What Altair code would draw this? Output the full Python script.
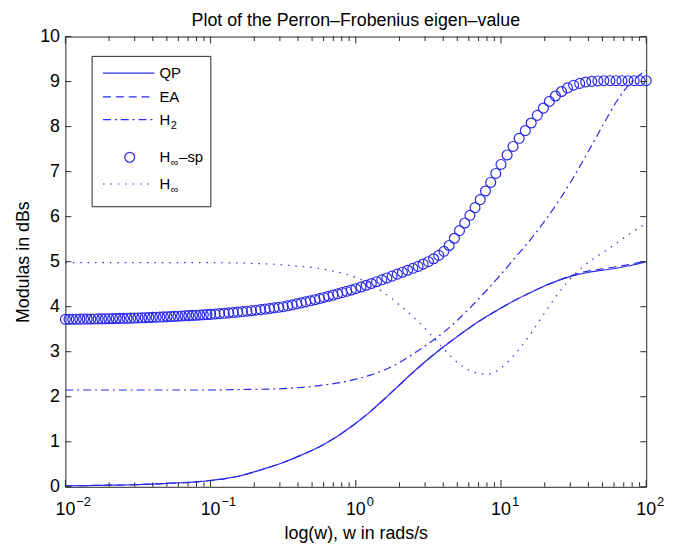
import altair as alt
import pandas as pd

BLUE = "#2a2ae8"
INK = "#262626"
FONT = "Liberation Sans"
W, H = 587, 455

# ---- data (log10 of w, value in dB) ----
line_logw = [-2.0, -1.9, -1.8, -1.7, -1.6, -1.5, -1.4, -1.3, -1.2, -1.1, -1.0,
             -0.9, -0.8, -0.7, -0.6, -0.5, -0.4, -0.3, -0.2, -0.1, 0.0,
             0.1, 0.2, 0.3, 0.4, 0.5, 0.6, 0.7, 0.8, 0.9, 1.0,
             1.1, 1.2, 1.3, 1.4, 1.5, 1.6, 1.7, 1.8, 1.9, 2.0]
qp_val = [0.02, 0.025, 0.03, 0.035, 0.04, 0.05, 0.06, 0.075, 0.09, 0.11, 0.14,
          0.18, 0.24, 0.33, 0.43, 0.54, 0.67, 0.81, 0.98, 1.18, 1.41,
          1.67, 1.96, 2.26, 2.56, 2.84, 3.10, 3.34, 3.57, 3.78, 3.97,
          4.15, 4.31, 4.46, 4.59, 4.69, 4.76, 4.81, 4.86, 4.92, 5.00]
ea_val = [0.02, 0.025, 0.03, 0.035, 0.04, 0.05, 0.06, 0.075, 0.09, 0.11, 0.14,
          0.18, 0.24, 0.33, 0.43, 0.54, 0.67, 0.81, 0.98, 1.18, 1.41,
          1.67, 1.96, 2.26, 2.56, 2.84, 3.10, 3.34, 3.57, 3.78, 3.97,
          4.15, 4.31, 4.46, 4.59, 4.71, 4.79, 4.84, 4.89, 4.95, 5.02]
h2_val = [2.15, 2.15, 2.15, 2.15, 2.15, 2.15, 2.15, 2.15, 2.15, 2.15, 2.15,
          2.155, 2.16, 2.165, 2.17, 2.18, 2.20, 2.23, 2.27, 2.32, 2.39,
          2.48, 2.60, 2.76, 2.96, 3.18, 3.42, 3.70, 4.02, 4.36, 4.72,
          5.10, 5.48, 5.90, 6.36, 6.88, 7.44, 8.02, 8.58, 9.00, 9.25]
hinf_val = [4.98, 4.98, 4.98, 4.98, 4.98, 4.98, 4.98, 4.98, 4.98, 4.98, 4.98,
            4.975, 4.97, 4.96, 4.95, 4.93, 4.90, 4.87, 4.82, 4.75, 4.65,
            4.50, 4.30, 4.04, 3.76, 3.44, 3.08, 2.76, 2.56, 2.50, 2.64,
            2.96, 3.38, 3.86, 4.32, 4.70, 4.98, 5.20, 5.42, 5.65, 5.85]

sp_logw = [-2.000, -1.975, -1.950, -1.925, -1.900, -1.875, -1.850, -1.825, -1.800, -1.775,
           -1.750, -1.725, -1.700, -1.675, -1.650, -1.625, -1.600, -1.575, -1.550, -1.525,
           -1.500, -1.475, -1.450, -1.425, -1.400, -1.375, -1.350, -1.325, -1.300, -1.275,
           -1.250, -1.225, -1.200, -1.175, -1.150, -1.125, -1.100, -1.075, -1.050, -1.025,
           -1.000, -0.969, -0.938, -0.906, -0.875, -0.844, -0.813, -0.781, -0.750, -0.719,
           -0.688, -0.656, -0.625, -0.594, -0.563, -0.531, -0.500, -0.469, -0.438, -0.406,
           -0.375, -0.344, -0.313, -0.281, -0.250, -0.219, -0.188, -0.156, -0.125, -0.094,
           -0.063, -0.031,
           0.000, 0.036, 0.071, 0.107, 0.143, 0.179, 0.214, 0.250, 0.286, 0.321,
           0.357, 0.393, 0.429, 0.464, 0.500, 0.536, 0.571, 0.607, 0.643, 0.679,
           0.714, 0.750, 0.786, 0.821, 0.857, 0.893, 0.929, 0.964,
           1.000, 1.042, 1.083, 1.125, 1.167, 1.208, 1.250, 1.292, 1.333, 1.375,
           1.417, 1.458, 1.500, 1.542, 1.583, 1.625, 1.667, 1.708, 1.750, 1.792,
           1.833, 1.875, 1.917, 1.958, 2.000]
sp_val = [3.720, 3.721, 3.722, 3.723, 3.724, 3.725, 3.726, 3.727, 3.728, 3.729,
          3.730, 3.732, 3.734, 3.736, 3.738, 3.740, 3.742, 3.744, 3.746, 3.748,
          3.750, 3.753, 3.756, 3.760, 3.763, 3.767, 3.770, 3.774, 3.777, 3.781,
          3.785, 3.789, 3.793, 3.798, 3.802, 3.807, 3.811, 3.816, 3.820, 3.825,
          3.830, 3.838, 3.846, 3.854, 3.862, 3.871, 3.880, 3.890, 3.900, 3.911,
          3.923, 3.935, 3.947, 3.960, 3.973, 3.986, 4.000, 4.020, 4.040, 4.062,
          4.085, 4.108, 4.131, 4.155, 4.180, 4.206, 4.232, 4.259, 4.286, 4.314,
          4.342, 4.371,
          4.400, 4.438, 4.476, 4.515, 4.555, 4.597, 4.638, 4.680, 4.723, 4.766,
          4.810, 4.853, 4.895, 4.945, 5.000, 5.065, 5.140, 5.230, 5.360, 5.520,
          5.690, 5.860, 6.030, 6.200, 6.380, 6.570, 6.760, 6.960,
          7.160, 7.370, 7.560, 7.740, 7.910, 8.080, 8.250, 8.410, 8.560, 8.680,
          8.780, 8.860, 8.920, 8.960, 8.990, 9.005, 9.015, 9.020, 9.020, 9.020,
          9.020, 9.020, 9.020, 9.020, 9.020]

x_major = [0.01, 0.1, 1, 10, 100]
x_exp = ["\u22122", "\u22121", "0", "1", "2"]
x_minor_mult = [2, 3, 4, 5, 6, 7, 8, 9]
y_ticks = [0, 1, 2, 3, 4, 5, 6, 7, 8, 9, 10]
title_text = "Plot of the Perron\u2013Frobenius eigen\u2013value"

# ---- tables ----
rows = []
for name, vals in [("QP", qp_val), ("EA", ea_val), ("H2", h2_val), ("Hinf", hinf_val)]:
    for lw, v in zip(line_logw, vals):
        rows.append({"w": 10 ** lw, "v": v, "s": name})
lines_df = pd.DataFrame(rows)
sp_df = pd.DataFrame({"w": [10 ** l for l in sp_logw], "v": sp_val})
major_df = pd.DataFrame({"w": x_major, "e": x_exp})
minor_df = pd.DataFrame({"w": [m * d for d in x_major[:-1] for m in x_minor_mult]})
ytick_df = pd.DataFrame({"v": y_ticks})
one = pd.DataFrame({"k": [0]})

xs = alt.Scale(type="log", domain=[0.01, 100], nice=False)
ys = alt.Scale(domain=[0, 10], nice=False)
xaxis = alt.Axis(labels=False, ticks=False, domain=False, grid=False,
                 title="log(w), w in rads/s", titleFontSize=18, titlePadding=38)
yaxis = alt.Axis(values=y_ticks, ticks=False, domain=False, grid=False,
                 labelFontSize=18, labelPadding=6,
                 title="Modulas in dBs", titleFontSize=18, titlePadding=7)
X = alt.X("w:Q", scale=xs, axis=xaxis)
Y = alt.Y("v:Q", scale=ys, axis=yaxis)

layers = []

styles = {"QP": [], "EA": [8, 5], "H2": [8, 4, 2, 4], "Hinf": [1.5, 6]}
for name in ["QP", "EA", "H2", "Hinf"]:
    kw = dict(color=BLUE, strokeWidth=1.2, interpolate="monotone")
    if styles[name]:
        kw["strokeDash"] = styles[name]
        kw["strokeCap"] = "butt"
    layers.append(
        alt.Chart(lines_df).transform_filter(alt.datum.s == name)
        .mark_line(**kw).encode(x=X, y=Y)
    )

layers.append(
    alt.Chart(sp_df).mark_point(shape="circle", filled=False, size=100,
                                strokeWidth=1.2, color=BLUE, opacity=1)
    .encode(x=X, y=Y)
)

# inward ticks
for y0, y1, df in [(H, H - 7, major_df), (0, 7, major_df),
                   (H, H - 4.5, minor_df), (0, 4.5, minor_df)]:
    layers.append(alt.Chart(df).mark_rule(color=INK, strokeWidth=1)
                  .encode(x=X, y=alt.value(y0), y2=alt.value(y1)))
for x0, x1 in [(0, 6), (W - 6, W)]:
    layers.append(alt.Chart(ytick_df).mark_rule(color=INK, strokeWidth=1)
                  .encode(y=Y, x=alt.value(x0), x2=alt.value(x1)))

# x tick labels 10^k
layers.append(alt.Chart(major_df).mark_text(font=FONT, fontSize=18, align="center",
                                            baseline="middle", color="black")
              .encode(x=X, y=alt.value(H + 24), text=alt.value("10")))
layers.append(alt.Chart(major_df).mark_text(font=FONT, fontSize=13, align="left",
                                            baseline="middle", dx=11, color="black")
              .encode(x=X, y=alt.value(H + 15), text="e:N"))

# title
layers.append(alt.Chart(one).mark_text(font=FONT, fontSize=18, align="center",
                                       baseline="middle", color="black")
              .encode(x=alt.value(W / 2), y=alt.value(-16), text=alt.value(title_text)))

# legend
layers.append(alt.Chart(one).mark_rect(fill="white", stroke=INK, strokeWidth=1)
              .encode(x=alt.value(27), x2=alt.value(147), y=alt.value(20), y2=alt.value(172)))
leg_y = [37, 61, 84, 122, 149]
for yy, name in [(leg_y[0], "QP"), (leg_y[1], "EA"), (leg_y[2], "H2"), (leg_y[4], "Hinf")]:
    kw = dict(color=BLUE, strokeWidth=1.2)
    if styles[name]:
        kw["strokeDash"] = styles[name]
        kw["strokeCap"] = "butt"
    layers.append(alt.Chart(one).mark_rule(**kw)
                  .encode(x=alt.value(38), x2=alt.value(90), y=alt.value(yy)))
layers.append(alt.Chart(one).mark_point(shape="circle", filled=False, size=100,
                                        strokeWidth=1.2, color=BLUE, opacity=1)
              .encode(x=alt.value(65), y=alt.value(leg_y[3])))

def txt(s, x, y, size=15):
    return (alt.Chart(one).mark_text(font=FONT, fontSize=size, align="left",
                                     baseline="middle", color="black")
            .encode(x=alt.value(x), y=alt.value(y), text=alt.value(s)))

layers += [
    txt("QP", 95, leg_y[0]),
    txt("EA", 95, leg_y[1]),
    txt("H", 95, leg_y[2]), txt("2", 106.5, leg_y[2] + 6, 11),
    txt("H", 95, leg_y[3]), txt("\u221e", 106.5, leg_y[3] + 6, 11), txt("\u2013sp", 115, leg_y[3]),
    txt("H", 95, leg_y[4]), txt("\u221e", 106.5, leg_y[4] + 6, 11),
]

chart = (
    alt.layer(*layers)
    .properties(
        width=W, height=H,
        autosize=alt.AutoSizeParams(type="none"),
        padding={"left": 58, "top": 26, "right": 21, "bottom": 60},
        background="white",
    )
    .configure_view(stroke=INK, strokeWidth=1)
    .configure_axis(labelFont=FONT, titleFont=FONT, labelColor="black",
                    titleColor="black", titleFontWeight="normal")
)

chart.save("out.html", embed_options={"renderer": "svg", "actions": False})
